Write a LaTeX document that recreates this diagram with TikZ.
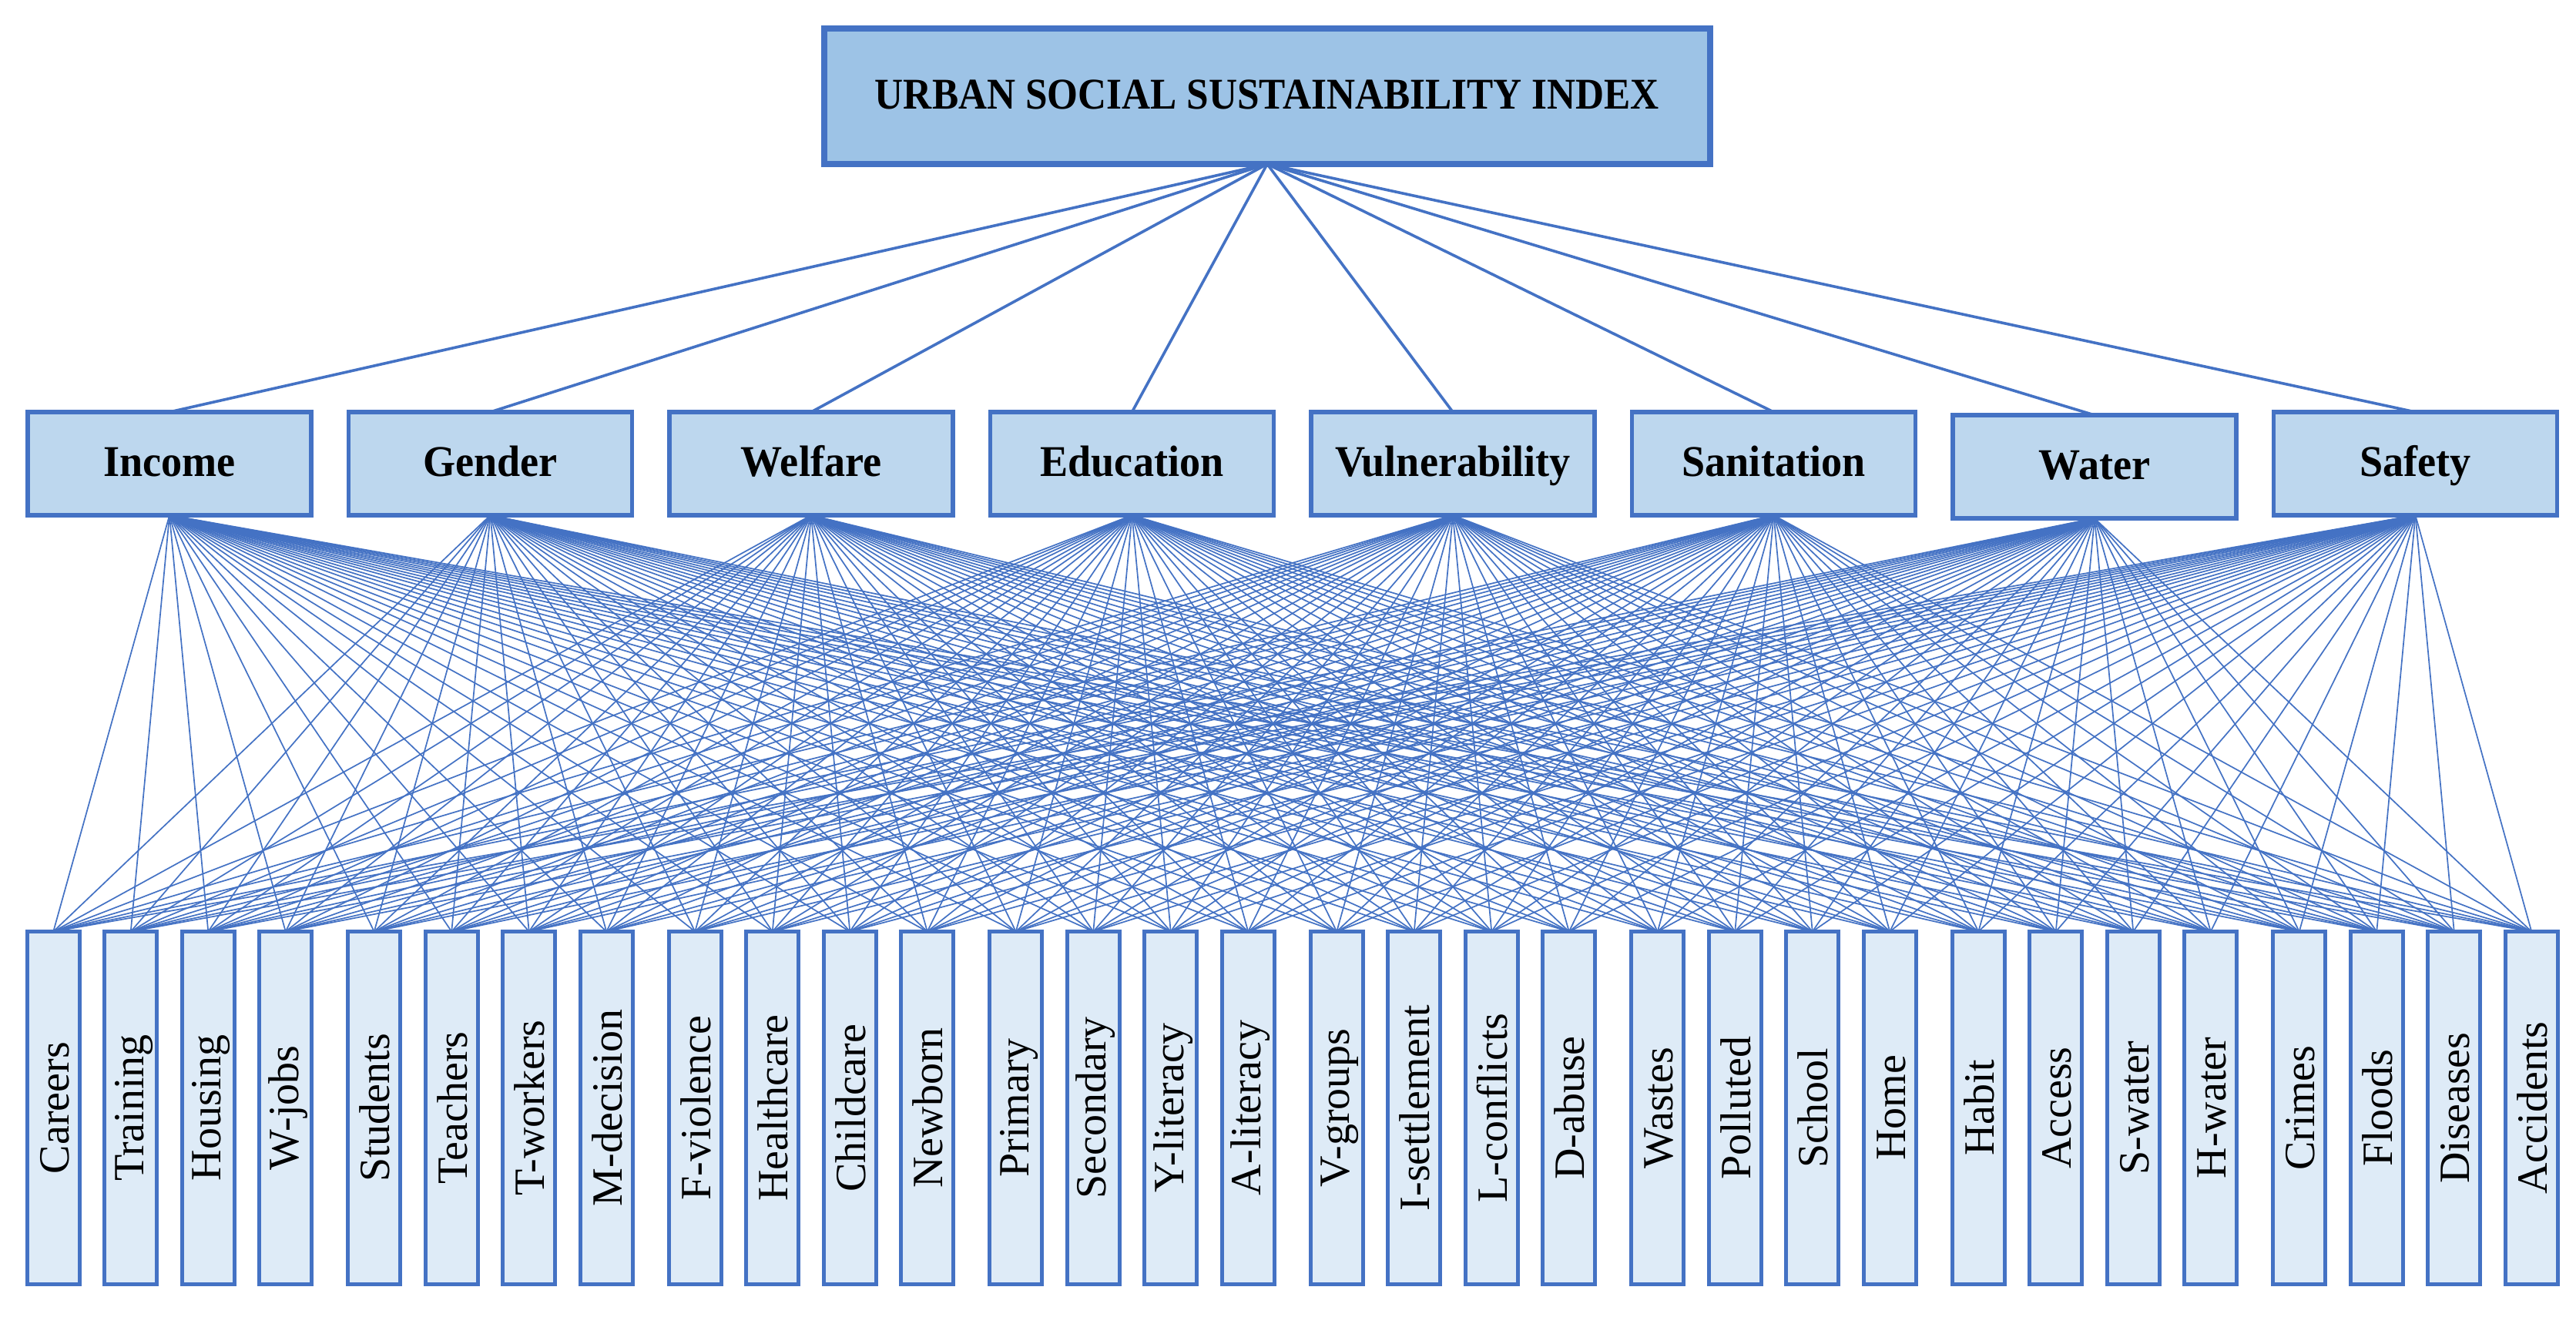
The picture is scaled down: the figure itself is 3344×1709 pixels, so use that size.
\documentclass[tikz,border=0pt]{standalone}
\usepackage{fontspec}
\setmainfont{Liberation Serif}
\usepackage{graphicx}
\usetikzlibrary{backgrounds}
\definecolor{edgeblue}{HTML}{4472C4}
\definecolor{topfill}{HTML}{9DC3E6}
\definecolor{midfill}{HTML}{BDD7EE}
\definecolor{botfill}{HTML}{DEEBF7}
\begin{document}
\begin{tikzpicture}[x=1pt,y=-1pt,
  topbox/.style={draw=edgeblue,fill=topfill,line width=8pt,minimum width=1150pt,minimum height=176pt,inner sep=0pt,outer sep=0pt,text height=40pt,text depth=8pt,font=\fontsize{57}{60}\selectfont\bfseries},
  midbox/.style={draw=edgeblue,fill=midfill,line width=5.5pt,minimum width=368pt,minimum height=134pt,inner sep=0pt,outer sep=0pt,text height=40pt,text depth=8pt,font=\fontsize{57}{60}\selectfont\bfseries},
  botbox/.style={draw=edgeblue,fill=botfill,line width=5pt,minimum width=68pt,minimum height=458pt,inner sep=0pt,outer sep=0pt,font=\fontsize{56}{60}\selectfont},
  upline/.style={draw=edgeblue,line width=3.6pt},
  fanline/.style={draw=edgeblue,line width=1.7pt}]
\useasboundingbox (0,0) rectangle (3344,1709);
% top
\node[topbox] (top) at (1645,125) {\scalebox{0.9}[1]{URBAN SOCIAL SUSTAINABILITY INDEX}};
% middle row
\node[midbox] (m1) at (220,602) {\scalebox{0.95}[1]{Income}};
\node[midbox] (m2) at (636.5,602) {\scalebox{0.95}[1]{Gender}};
\node[midbox] (m3) at (1053,602) {\scalebox{0.95}[1]{Welfare}};
\node[midbox] (m4) at (1469.5,602) {\scalebox{0.95}[1]{Education}};
\node[midbox] (m5) at (1886,602) {\scalebox{0.95}[1]{Vulnerability}};
\node[midbox] (m6) at (2302.5,602) {\scalebox{0.95}[1]{Sanitation}};
\node[midbox] (m7) at (2719,606) {\scalebox{0.95}[1]{Water}};
\node[midbox] (m8) at (3135.5,602) {\scalebox{0.95}[1]{Safety}};
% bottom row
\foreach \lab [count=\n from 0] in {Careers,Training,Housing,W-jobs,Students,Teachers,T-workers,M-decision,F-violence,Healthcare,Childcare,Newborn,Primary,Secondary,Y-literacy,A-literacy,V-groups,I-settlement,L-conflicts,D-abuse,Wastes,Polluted,School,Home,Habit,Access,S-water,H-water,Crimes,Floods,Diseases,Accidents}{
  \pgfmathtruncatemacro{\g}{int(\n/4)}
  \pgfmathtruncatemacro{\k}{\n-4*\g}
  \pgfmathtruncatemacro{\idx}{\n+1}
  \pgfmathsetmacro{\xc}{220+416.5*\g+(\k-1.5)*100.5}
  \node[botbox] (b\idx) at (\xc,1438.5) {\rotatebox{90}{\rule[-5pt]{0pt}{50pt}\lab}};
}
\begin{scope}[on background layer]
  \fill[white] (0,0) rectangle (3344,1709);
  \foreach \i in {1,...,8}{
    \draw[upline] (top.south) -- (m\i.north);
  }
  \foreach \i in {1,...,8}{
    \foreach \j in {1,...,32}{
      \draw[fanline] (m\i.south) -- (b\j.north);
    }
  }
\end{scope}
\end{tikzpicture}
\end{document}
